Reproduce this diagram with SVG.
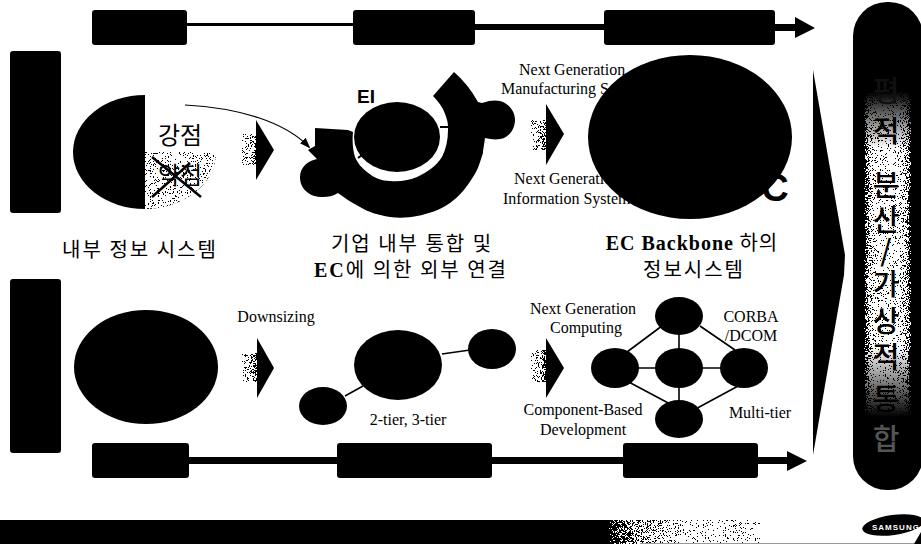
<svg xmlns="http://www.w3.org/2000/svg" width="921" height="544" viewBox="0 0 921 544">
<style>
.k{fill:#000}
.en{font-family:"Liberation Serif",serif;font-size:16px;fill:#000;text-anchor:middle}
.st{text-anchor:start}
.ko{font-family:"Noto Sans CJK KR","Noto Sans",sans-serif;font-size:20px;fill:#000;text-anchor:middle;letter-spacing:2px}
.b{font-family:"Liberation Serif","Noto Sans CJK KR",serif;font-weight:bold}
.v{font-family:"Noto Sans CJK KR",sans-serif;font-size:29px;font-weight:500;fill:#000;text-anchor:middle}
.ln{stroke:#000;stroke-width:1.6;fill:none}
</style>
<defs>
<filter id="dn" x="0" y="0" width="100%" height="100%" color-interpolation-filters="sRGB">
<feTurbulence type="fractalNoise" baseFrequency="1.6" numOctaves="1" seed="4" result="n"/>
<feColorMatrix in="n" type="matrix" values="3 0 0 0 -1 3 0 0 0 -1 3 0 0 0 -1 0 0 0 0 1" result="g"/>
<feComposite in="SourceGraphic" in2="g" operator="arithmetic" k1="2" k2="0.4" k3="0" k4="0" result="s"/>
<feComponentTransfer in="s" result="d"><feFuncR type="discrete" tableValues="0 1"/><feFuncG type="discrete" tableValues="0 1"/><feFuncB type="discrete" tableValues="0 1"/><feFuncA type="linear" slope="0" intercept="1"/></feComponentTransfer>
<feComposite in="d" in2="SourceAlpha" operator="in"/>
</filter>
<linearGradient id="pillH"><stop offset="0" stop-color="#000"/><stop offset=".14" stop-color="#222"/><stop offset=".38" stop-color="#ddd"/><stop offset=".62" stop-color="#eee"/><stop offset=".86" stop-color="#333"/><stop offset="1" stop-color="#000"/></linearGradient>
<linearGradient id="pillV" x2="0" y2="1"><stop offset="0" stop-color="#000"/><stop offset=".14" stop-color="#000"/><stop offset=".27" stop-color="#fff"/><stop offset=".72" stop-color="#fff"/><stop offset=".88" stop-color="#000"/><stop offset="1" stop-color="#000"/></linearGradient>
<mask id="pillM"><rect x="853" y="30" width="68" height="440" fill="url(#pillV)"/></mask>
<linearGradient id="foot"><stop offset="0" stop-color="#000"/><stop offset=".74" stop-color="#000"/><stop offset=".8" stop-color="#333"/><stop offset=".86" stop-color="#888"/><stop offset=".92" stop-color="#eee"/><stop offset="1" stop-color="#fff"/></linearGradient>
<linearGradient id="arrowGrad"><stop offset="0" stop-color="#b8b8b8"/><stop offset="1" stop-color="#505050"/></linearGradient>
<marker id="ah" markerWidth="12" markerHeight="8" refX="9" refY="4" orient="auto" markerUnits="userSpaceOnUse"><path d="M0,0L11,4L0,8Z" fill="#000"/></marker>
</defs>
<rect width="921" height="544" fill="#fff"/>

<g id="connectors">
<path class="k" d="M187,23L353,23L353,26L187,26Z M475,24L604,24L604,30L475,30Z M775,24L795,24L795,17L815,28L795,38L795,31L775,31Z"/>
<path class="k" d="M189,457L337,457L337,464L189,464Z M492,457L623,457L623,464L492,464Z M758,457L787,457L787,451L807,461L787,471L787,464L758,464Z"/>
<path class="ln" d="M185,105C240,108 285,122 309,147" marker-end="url(#ah)" style="stroke-width:1.2"/>
<path class="ln" d="M345,396L363,386M442,354L470,350"/>
<path class="ln" d="M679,316V419M615,368H744M627,352L690,305M700,326L735,350M625,380L672,405M740,385L690,412"/>
</g>

<g id="top-bar"><rect class="k" x="92" y="10" width="95" height="35" rx="3"/><rect class="k" x="353" y="10" width="122" height="35" rx="3"/><rect class="k" x="604" y="10" width="171" height="35" rx="3"/></g>
<g id="bottom-bar"><rect class="k" x="92" y="443" width="97" height="35" rx="3"/><rect class="k" x="337" y="443" width="155" height="35" rx="3"/><rect class="k" x="623" y="443" width="135" height="35" rx="3"/></g>
<g id="left-top"><rect class="k" x="10" y="51" width="51" height="162" rx="3"/></g>
<g id="left-bottom"><rect class="k" x="10" y="279" width="51" height="174" rx="3"/></g>

<g id="internal-system">
<path class="k" d="M145,95A72,57 0 0 0 145,209Z"/>
<path d="M145,152H216A72,57 0 0 1 145,209Z" fill="#c0c0c0" filter="url(#dn)"/>
<text x="180" y="144" class="ko" style="font-size:24px;letter-spacing:0">강점</text>
<text x="180" y="184" class="ko" style="font-size:24px;letter-spacing:0">약점</text>
<path d="M152,157L201,197M152,197L190,163" stroke="#000" stroke-width="2.5" fill="none"/>
<text x="140" y="257" class="ko">내부 정보 시스템</text>
</g>

<g id="arrow-1"><rect x="242" y="134" width="15" height="31" fill="url(#arrowGrad)" filter="url(#dn)"/><path class="k" d="M256,120L274,150L256,180Z"/></g>

<g id="ei">
<path class="k" d="M433,96L454,72Q468,84 478,102L482,103C490,100 496,100 500,101C510,104 515,112 515,120C515,130 508,138 500,139C495,140 490,139 485,138C484,146 483,150 483,153C480,162 478,170 473,177C466,188 460,196 450,203C440,210 428,214 417,216C408,218 398,218 390,217C378,215 368,212 360,207C352,203 345,198 338,193C333,196 328,197 323,197C316,197 310,195 307,192C302,188 300,183 300,177C300,172 302,168 305,165C308,162 312,160 317,159L308,150L315,146L315,128L348,130L353,132C352,142 353,150 355,157C358,164 362,168 367,172C374,178 382,181 390,181C400,182 410,180 417,177C428,172 436,166 442,157C446,149 448,140 448,130C448,126 448,123 447,120C445,111 440,103 433,96Z"/>
<ellipse class="k" cx="397" cy="137" rx="43" ry="35"/>
<path d="M358,158L362,155M440,127H449" stroke="#000" stroke-width="2"/>
<text x="366" y="103" style="font-family:'Liberation Sans',sans-serif;font-size:19px;font-weight:bold;text-anchor:middle">EI</text>
<text x="412" y="251" class="ko">기업 내부 통합 및</text>
<text x="411" y="277" class="ko"><tspan class="b">EC</tspan>에 의한 외부 연결</text>
</g>

<g id="arrow-2"><rect x="531" y="120" width="15" height="30" fill="url(#arrowGrad)" filter="url(#dn)"/><path class="k" d="M546,104L564,134L546,165Z"/></g>

<g id="ec-backbone">
<text x="519" y="75" class="en st">Next Generation</text>
<text x="501" y="94" class="en st">Manufacturing S</text>
<text x="514" y="184" class="en st">Next Generation</text>
<text x="503" y="204" class="en st">Information System</text>
<text x="775" y="201" style="font-family:'Liberation Sans',sans-serif;font-size:38px;font-weight:bold;text-anchor:middle">C</text>
<ellipse class="k" cx="690" cy="137" rx="102" ry="82"/>
<text x="692" y="250" class="ko" style="letter-spacing:1px"><tspan class="b">EC Backbone</tspan> 하의</text>
<text x="694" y="277" class="ko">정보시스템</text>
</g>

<g id="mainframe"><ellipse class="k" cx="146" cy="367" rx="72" ry="57"/></g>

<g id="arrow-3"><text x="276" y="322" class="en">Downsizing</text><rect x="242" y="353" width="15" height="29" fill="url(#arrowGrad)" filter="url(#dn)"/><path class="k" d="M257,338L274,368L257,398Z"/></g>

<g id="two-tier">
<ellipse class="k" cx="398" cy="365" rx="44" ry="35"/>
<ellipse class="k" cx="323" cy="406" rx="24" ry="19"/>
<ellipse class="k" cx="492" cy="349" rx="24" ry="20"/>
<text x="408" y="425" class="en">2-tier, 3-tier</text>
</g>

<g id="arrow-4"><rect x="531" y="350" width="15" height="32" fill="url(#arrowGrad)" filter="url(#dn)"/><path class="k" d="M546,338L564,368L546,398Z"/></g>

<g id="multi-tier">
<ellipse class="k" cx="679" cy="316" rx="24" ry="19"/>
<ellipse class="k" cx="615" cy="368" rx="24" ry="20"/>
<ellipse class="k" cx="679" cy="368" rx="24" ry="20"/>
<ellipse class="k" cx="744" cy="368" rx="24" ry="20"/>
<ellipse class="k" cx="679" cy="419" rx="24" ry="19"/>
<text x="583" y="314" class="en">Next Generation</text>
<text x="586" y="333" class="en">Computing</text>
<text x="583" y="415" class="en">Component-Based</text>
<text x="583" y="435" class="en">Development</text>
<text x="751" y="322" class="en">CORBA</text>
<text x="751" y="341" class="en">/DCOM</text>
<text x="760" y="418" class="en">Multi-tier</text>
</g>

<g id="big-arrow"><path class="k" d="M813,70L845,255L844,275L813,455Z"/></g>

<g id="pill">
<rect class="k" x="853" y="2" width="70" height="488" rx="34" ry="34"/>
<rect x="853" y="30" width="68" height="440" fill="url(#pillH)" mask="url(#pillM)" filter="url(#dn)"/>
<text x="886" y="102" class="v" style="fill:#111">평</text>
<text x="886" y="142" class="v">적</text>
<text x="886" y="196" class="v">분</text>
<text x="886" y="231" class="v">산</text>
<text x="886" y="261" class="v">/</text>
<text x="886" y="295" class="v">가</text>
<text x="886" y="332" class="v">상</text>
<text x="886" y="368" class="v">적</text>
<text x="886" y="410" class="v">통</text>
<text x="886" y="450" class="v" style="fill:#555">합</text>
</g>

<g id="footer">
<rect x="0" y="520" width="760" height="24" fill="url(#foot)" filter="url(#dn)"/>
<rect x="640" y="543" width="281" height="1" fill="#999"/>
</g>

<g id="logo">
<ellipse class="k" cx="893" cy="525" rx="31" ry="10" transform="rotate(-8 893 525)"/>
<text x="872" y="530" style="font-family:'Liberation Sans',sans-serif;font-size:8px;font-weight:bold;fill:#fff;letter-spacing:1px">SAMSUNG</text>
<path class="k" d="M914,544L921,532V544Z"/>
</g>
</svg>
